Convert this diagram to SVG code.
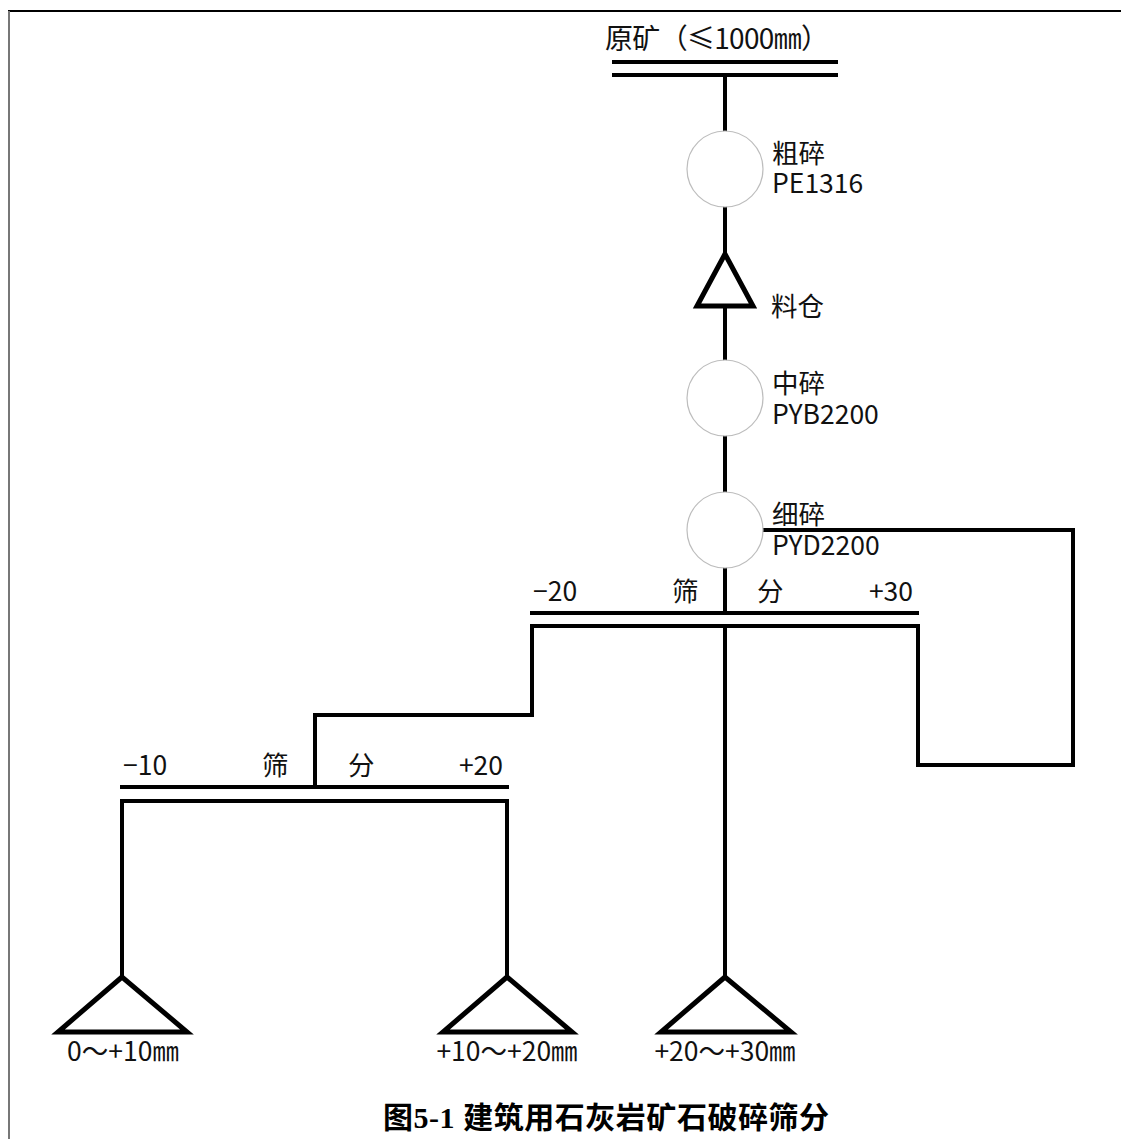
<svg xmlns="http://www.w3.org/2000/svg" width="1121" height="1139" viewBox="0 0 1121 1139">
<style>
  .ln{fill:none;stroke:#000;stroke-width:4;stroke-linecap:square}
  .tri{fill:#fff;stroke:#000;stroke-width:5;stroke-linejoin:miter}
  .cr{fill:#fff;stroke:#bdbdbd;stroke-width:1.2}
  .t{font-family:"Noto Sans CJK SC","Liberation Sans",sans-serif;font-size:26.5px;fill:#111}
  .title{font-family:"Liberation Serif","Noto Sans CJK SC",serif;font-size:30px;font-weight:bold;fill:#000}
</style>
<rect width="1121" height="1139" fill="#fff"/>
<g id="frame">
  <line x1="8" y1="11" x2="1121" y2="11" stroke="#000" stroke-width="2"/>
  <line x1="9" y1="11" x2="9" y2="1139" stroke="#777" stroke-width="2"/>
</g>
<g id="connectors">
  <path class="ln" d="M725 75 V131"/>
  <path class="ln" d="M725 207 V253"/>
  <path class="ln" d="M725 306 V360"/>
  <path class="ln" d="M725 436 V492"/>
  <path class="ln" d="M725 568 V613"/>
  <path class="ln" d="M763 530 H1073 V765 H918 V626"/>
  <path class="ln" d="M725 626 V977"/>
  <path class="ln" d="M532 626 V715 H315 V787"/>
  <path class="ln" d="M122 801 V977"/>
  <path class="ln" d="M507 801 V977"/>
</g>
<g id="raw-ore">
  <text class="t" x="605" y="49" style="font-size:28px" textLength="224" lengthAdjust="spacing">原矿（≤1000㎜）</text>
  <path class="ln" d="M614 62 H836 M614 75 H836"/>
</g>
<g id="coarse-crusher">
  <circle class="cr" cx="725" cy="169" r="38"/>
  <text class="t" x="772" y="163">粗碎</text>
  <text class="t" x="772" y="193">PE1316</text>
</g>
<g id="bin">
  <polygon class="tri" points="725,254 697,306 753,306"/>
  <text class="t" x="771" y="316">料仓</text>
</g>
<g id="medium-crusher">
  <circle class="cr" cx="725" cy="398" r="38"/>
  <text class="t" x="772" y="393">中碎</text>
  <text class="t" x="772" y="424">PYB2200</text>
</g>
<g id="fine-crusher">
  <circle class="cr" cx="725" cy="530" r="38"/>
  <text class="t" x="772" y="524">细碎</text>
  <text class="t" x="772" y="555">PYD2200</text>
</g>
<g id="screen-1">
  <path class="ln" d="M532 613 H917 M532 626 H917"/>
  <text class="t" x="533" y="601">−20</text>
  <text class="t" x="672" y="601">筛</text>
  <text class="t" x="757" y="601">分</text>
  <text class="t" x="913" y="601" text-anchor="end">+30</text>
</g>
<g id="screen-2">
  <path class="ln" d="M122 787 H507 M122 801 H507"/>
  <text class="t" x="123" y="775">−10</text>
  <text class="t" x="262" y="775">筛</text>
  <text class="t" x="348" y="775">分</text>
  <text class="t" x="503" y="775" text-anchor="end">+20</text>
</g>
<g id="product-0-10">
  <polygon class="tri" points="122,977 58,1032 187,1032"/>
  <text class="t" x="123" y="1061" text-anchor="middle">0～+10㎜</text>
</g>
<g id="product-10-20">
  <polygon class="tri" points="507,977 443,1032 572,1032"/>
  <text class="t" x="507" y="1061" text-anchor="middle">+10～+20㎜</text>
</g>
<g id="product-20-30">
  <polygon class="tri" points="725,977 661,1032 791,1032"/>
  <text class="t" x="725" y="1061" text-anchor="middle">+20～+30㎜</text>
</g>
<g id="title">
  <text class="title" x="606" y="1128" text-anchor="middle" textLength="446" lengthAdjust="spacing">图5-1  建筑用石灰岩矿石破碎筛分</text>
</g>
</svg>
